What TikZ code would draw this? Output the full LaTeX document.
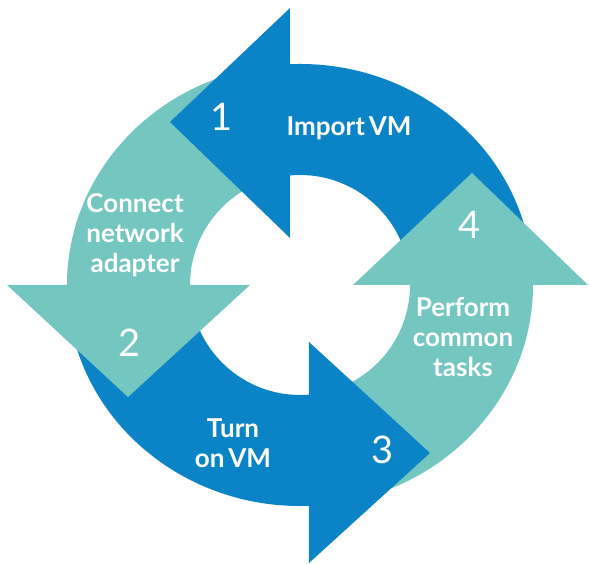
\documentclass[tikz,border=0pt]{standalone}
\usepackage{fontspec}
\setmainfont{Lato}[WordSpace=0.6]
\definecolor{stepblue}{RGB}{10,132,198}
\definecolor{stepteal}{RGB}{116,198,193}
\begin{document}
\begin{tikzpicture}[x=1pt,y=1pt,
  lbl/.style={text=white, font=\fontsize{26}{30}\selectfont\bfseries, align=center, inner sep=0pt},
  num/.style={text=white, font=\fontsize{38}{40}\selectfont, inner sep=0pt},
  blueshape/.style={fill=stepblue},
  tealshape/.style={fill=stepteal}]
\useasboundingbox (-300,-279) rectangle (289,285);
% shafts
\fill[blueshape] (10:233 and 221) arc[start angle=10, end angle=96, x radius=233, y radius=221]
  -- (96:110) arc[start angle=96, end angle=10, radius=110] -- cycle;
\fill[tealshape] (100:233 and 221) arc[start angle=100, end angle=186, x radius=233, y radius=221]
  -- (186:110) arc[start angle=186, end angle=100, radius=110] -- cycle;
\fill[blueshape] (190:233 and 221) arc[start angle=190, end angle=276, x radius=233, y radius=221]
  -- (276:110) arc[start angle=276, end angle=190, radius=110] -- cycle;
\fill[tealshape] (280:233 and 221) arc[start angle=280, end angle=366, x radius=233, y radius=221]
  -- (366:110) arc[start angle=366, end angle=280, radius=110] -- cycle;
% heads
\fill[blueshape] (-10,277) -- (-130,163) -- (-10,47) -- cycle;
\fill[tealshape] (-293,0) -- (-172,-112) -- (-50,0) -- cycle;
\fill[blueshape] (9,-57) -- (130,-168) -- (9,-278) -- cycle;
\fill[tealshape] (53,0) -- (172,112) -- (288,0) -- cycle;
% labels
\node[num] (n1) at (-78,168) {1};
\node[lbl] (t1) at (49,157) {Import VM};
\node[lbl] (t2) at (-165,50) {Connect\\network\\adapter};
\node[num] (n2) at (-170,-58) {2};
\node[lbl] (t3) at (-67,-158) {Turn\\on VM};
\node[num] (n3) at (83,-165) {3};
\node[num] (n4) at (170,60) {4};
\node[lbl] (t4) at (163,-52) {Perform\\common\\tasks};
\end{tikzpicture}
\end{document}
